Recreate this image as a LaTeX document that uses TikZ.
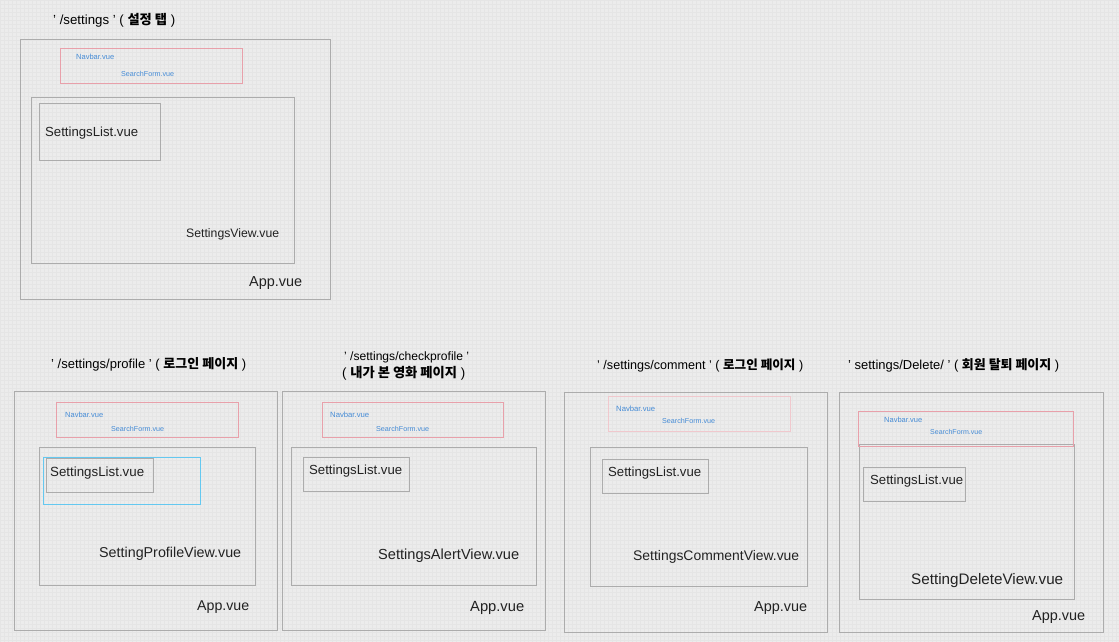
\documentclass[tikz,border=0pt]{standalone}
\usepackage{fontspec}
\setmainfont{Liberation Sans}
\newfontfamily\krfont{Noto Sans CJK KR}
\usepackage{graphicx}
\definecolor{bgc}{RGB}{236,236,236}
\definecolor{gridc}{RGB}{229,229,229}
\definecolor{boxc}{RGB}{172,172,172}
\definecolor{pinkc}{RGB}{232,160,170}
\definecolor{pinklc}{RGB}{240,200,205}
\definecolor{bluet}{RGB}{70,140,214}
\definecolor{blueb}{RGB}{100,200,240}
\definecolor{inkc}{RGB}{34,34,34}
\newcommand\wf[2]{\resizebox{#1pt}{!}{#2}}
\newcommand\kr[1]{{\krfont\bfseries #1}}
\tikzset{
  frame/.style={draw=boxc, line width=1pt, inner sep=0pt, anchor=north west},
  navbox/.style={draw=pinkc, line width=0.9pt, inner sep=0pt, anchor=north west},
  navboxl/.style={draw=pinklc, line width=0.9pt, inner sep=0pt, anchor=north west},
  selbox/.style={draw=blueb, line width=1pt, inner sep=0pt, anchor=north west},
  lbl/.style={inner sep=0pt, anchor=west, text=inkc},
  small/.style={inner sep=0pt, anchor=west, text=bluet},
  ttl/.style={inner sep=0pt, anchor=west, text=black},
}
\begin{document}
\begin{tikzpicture}[x=1pt,y=-1pt]
\useasboundingbox (0,0) rectangle (1119,642);
\fill[bgc] (0,0) rectangle (1119,642);
\draw[gridc, line width=0.3pt, step=4pt] (0,0) grid (1119,642);

% ---------- Panel 1 ----------
\node[ttl] (t1) at (53,20) {\wf{122}{' /settings ' ( \kr{설정 탭} )}};
\node[frame, minimum width=310pt, minimum height=260pt] (app1) at (20,39) {};
\node[navbox, minimum width=182pt, minimum height=35pt] (nav1) at (60,48) {};
\node[frame, minimum width=263pt, minimum height=166pt] (view1) at (31,97) {};
\node[frame, minimum width=121pt, minimum height=57pt] (list1) at (39,103) {};
\node[small] (nb1) at (76,57) {\wf{38}{Navbar.vue}};
\node[small] (sf1) at (121,74) {\wf{53}{SearchForm.vue}};
\node[lbl] (lt1) at (45,133) {\wf{93}{SettingsList.vue}};
\node[lbl] (vt1) at (186,234) {\wf{93}{SettingsView.vue}};
\node[lbl] (at1) at (249,283) {\wf{53}{App.vue}};

% ---------- Panel 2 ----------
\node[ttl] (t2) at (51,364) {\wf{195}{' /settings/profile ' ( \kr{로그인 페이지} )}};
\node[frame, minimum width=263pt, minimum height=239pt] (app2) at (14,391) {};
\node[navbox, minimum width=182pt, minimum height=35pt] (nav2) at (56,402) {};
\node[frame, minimum width=216pt, minimum height=138pt] (view2) at (39,447) {};
\node[selbox, minimum width=157pt, minimum height=47pt] (sel2) at (43,457) {};
\node[frame, minimum width=107pt, minimum height=34pt] (list2) at (46,458) {};
\node[small] (nb2) at (65,415) {\wf{38}{Navbar.vue}};
\node[small] (sf2) at (111,429) {\wf{53}{SearchForm.vue}};
\node[lbl] (lt2) at (50,473) {\wf{94}{SettingsList.vue}};
\node[lbl] (vt2) at (99,554) {\wf{142}{SettingProfileView.vue}};
\node[lbl] (at2) at (197,607) {\wf{52}{App.vue}};

% ---------- Panel 3 ----------
\node[ttl] (t3a) at (344,357) {\wf{125}{' /settings/checkprofile '}};
\node[ttl] (t3b) at (342,373) {\wf{123}{( \kr{내가 본 영화 페이지} )}};
\node[frame, minimum width=263pt, minimum height=239pt] (app3) at (282,391) {};
\node[navbox, minimum width=181pt, minimum height=35pt] (nav3) at (322,402) {};
\node[frame, minimum width=245pt, minimum height=138pt] (view3) at (291,447) {};
\node[frame, minimum width=106pt, minimum height=34pt] (list3) at (303,457) {};
\node[small] (nb3) at (330,415) {\wf{39}{Navbar.vue}};
\node[small] (sf3) at (376,429) {\wf{53}{SearchForm.vue}};
\node[lbl] (lt3) at (309,471) {\wf{93}{SettingsList.vue}};
\node[lbl] (vt3) at (378,556) {\wf{141}{SettingsAlertView.vue}};
\node[lbl] (at3) at (470,608) {\wf{54}{App.vue}};

% ---------- Panel 4 ----------
\node[ttl] (t4) at (597,365) {\wf{206}{' /settings/comment ' ( \kr{로그인 페이지} )}};
\node[frame, minimum width=263pt, minimum height=240pt] (app4) at (564,392) {};
\node[navboxl, minimum width=182pt, minimum height=35pt] (nav4) at (608,396) {};
\node[frame, minimum width=217pt, minimum height=139pt] (view4) at (590,447) {};
\node[frame, minimum width=106pt, minimum height=34pt] (list4) at (602,459) {};
\node[small] (nb4) at (616,409) {\wf{39}{Navbar.vue}};
\node[small] (sf4) at (662,421) {\wf{53}{SearchForm.vue}};
\node[lbl] (lt4) at (608,473) {\wf{93}{SettingsList.vue}};
\node[lbl] (vt4) at (633,557) {\wf{166}{SettingsCommentView.vue}};
\node[lbl] (at4) at (754,608) {\wf{53}{App.vue}};

% ---------- Panel 5 ----------
\node[ttl] (t5) at (848,365) {\wf{211}{' settings/Delete/ ' ( \kr{회원 탈퇴 페이지} )}};
\node[frame, minimum width=264pt, minimum height=240pt] (app5) at (839,392) {};
\node[frame, minimum width=215pt, minimum height=155pt] (view5) at (859,444) {};
\node[navbox, minimum width=215pt, minimum height=35pt] (nav5) at (858,411) {};
\node[frame, minimum width=102pt, minimum height=34pt] (list5) at (863,467) {};
\node[small] (nb5) at (884,420) {\wf{38}{Navbar.vue}};
\node[small] (sf5) at (930,432) {\wf{52}{SearchForm.vue}};
\node[lbl] (lt5) at (870,481) {\wf{93}{SettingsList.vue}};
\node[lbl] (vt5) at (911,581) {\wf{152}{SettingDeleteView.vue}};
\node[lbl] (at5) at (1032,617) {\wf{53}{App.vue}};
\end{tikzpicture}
\end{document}
